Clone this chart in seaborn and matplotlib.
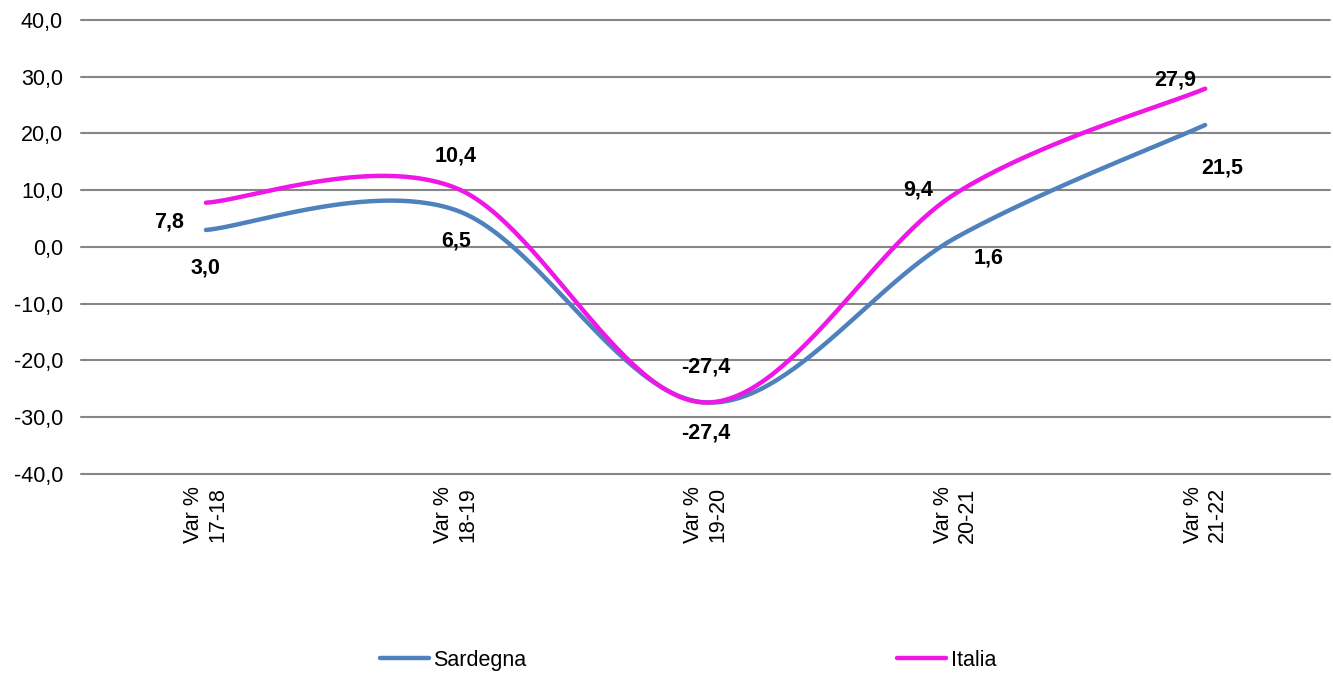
import numpy as np
import pandas as pd
import seaborn as sns
import matplotlib.pyplot as plt
from matplotlib.ticker import FuncFormatter, MultipleLocator
from matplotlib.lines import Line2D

# values
periods = ["Var %\n17-18", "Var %\n18-19", "Var %\n19-20", "Var %\n20-21", "Var %\n21-22"]
sardegna = [3.0, 6.5, -27.4, 1.6, 21.5]
italia = [7.8, 10.4, -27.4, 9.4, 27.9]

colors = {"Sardegna": "#4F81BD", "Italia": "#EE17E6"}


def comma(v):
    return f"{v:.1f}".replace(".", ",")


# excel-like smoothed line (bezier through the points), only for drawing
def smooth(ys, n=60):
    pts = np.column_stack([np.arange(len(ys)), ys]).astype(float)
    out = []
    for i in range(len(pts) - 1):
        p0 = pts[max(i - 1, 0)]
        p1 = pts[i]
        p2 = pts[i + 1]
        p3 = pts[min(i + 2, len(pts) - 1)]
        c1 = p1 + (p2 - p0) / 6
        c2 = p2 - (p3 - p1) / 6
        t = np.linspace(0, 1, n)[:, None]
        seg = (1 - t) ** 3 * p1 + 3 * (1 - t) ** 2 * t * c1 + 3 * (1 - t) * t ** 2 * c2 + t ** 3 * p2
        out.append(seg if i == 0 else seg[1:])
    return np.vstack(out)


frames = []
for name, vals in [("Sardegna", sardegna), ("Italia", italia)]:
    s = smooth(vals)
    frames.append(pd.DataFrame({"x": s[:, 0], "y": s[:, 1], "serie": name}))
df = pd.concat(frames, ignore_index=True)

sns.set_style("white")
plt.rcParams["font.family"] = ["Liberation Sans", "DejaVu Sans"]
plt.rcParams["axes.unicode_minus"] = False
plt.rcParams["text.color"] = "black"

fs = 15.5

fig = plt.figure(figsize=(13.33, 6.73), dpi=100)
ax = fig.add_axes([0.0608, 0.2957, 0.9370, 0.6746])

# gridlines
for v in range(-40, 41, 10):
    ax.axhline(v, color="#868686", lw=1.5, zorder=0, clip_on=False)

sns.lineplot(data=df, x="x", y="y", hue="serie", palette=colors, sort=False,
             estimator=None, units="serie", lw=3.2, ax=ax, legend=False)

ax.set_xlim(-0.5, len(periods) - 0.5)
ax.set_ylim(-40, 40)
ax.yaxis.set_major_locator(MultipleLocator(10))
ax.yaxis.set_major_formatter(FuncFormatter(lambda v, p: comma(v)))
ax.set_xticks(range(len(periods)))
ax.set_xticklabels(periods, rotation=90, ha="center", va="top")
ax.tick_params(axis="both", length=0, labelsize=fs, colors="black")
ax.tick_params(axis="x", pad=9)
ax.tick_params(axis="y", pad=13)
ax.set_xlabel("")
ax.set_ylabel("")
sns.despine(ax=ax, left=True, bottom=True)

# data labels (offsets in pixels)
ita_off = [(-37, -19), (0, 32), (0, 35), (-37, 4), (-30, 9)]
sar_off = [(0, -38), (0, -31), (0, -31), (33, -20), (17, -43)]
for vals, offs in [(italia, ita_off), (sardegna, sar_off)]:
    for i, (v, o) in enumerate(zip(vals, offs)):
        ax.annotate(comma(v), (i, v), xytext=o, textcoords="offset pixels",
                    ha="center", va="center", fontsize=fs, fontweight="bold", color="black")

handles = [Line2D([0], [0], color=colors[k], lw=3.2) for k in ["Sardegna", "Italia"]]
fig.legend(handles, ["Sardegna", "Italia"], loc="center", bbox_to_anchor=(0.516, 0.019),
           ncol=2, frameon=False, fontsize=fs, handlelength=2.3, handletextpad=0.2,
           columnspacing=17.2, labelcolor="black")

fig.savefig("out.png", dpi=100)
